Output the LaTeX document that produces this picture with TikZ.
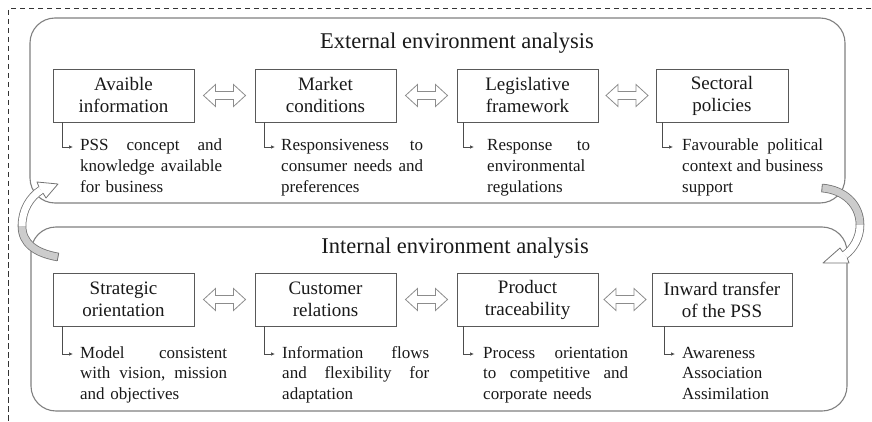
\documentclass[tikz,border=0pt]{standalone}
\usepackage{fontspec}
\setmainfont{Liberation Serif}
\usetikzlibrary{arrows.meta,calc}
\newcommand\jl[2]{\leavevmode\hbox to #1{#2}}
\begin{document}
\begin{tikzpicture}[x=1pt,y=-1pt,
  frame/.style={draw=black!80, line width=1pt, dash pattern=on 5.5pt off 3.5pt},
  container/.style={draw=black!50, line width=1.1pt, rounded corners=25pt},
  title/.style={font=\fontsize{22.5}{27}\selectfont, text=black!90, inner sep=0pt},
  factor/.style={draw=black!65, line width=0.8pt, fill=white, minimum height=53pt,
    inner sep=0pt, align=center, font=\fontsize{19}{22}\selectfont, text=black!90},
  desc/.style={anchor=base west, inner sep=0pt, align=left,
    font=\fontsize{17}{20.8}\selectfont, text=black!90},
  elbow/.style={draw=black!70, line width=0.7pt, -{Latex[length=4pt,width=3.5pt]}},
  dblline/.style={draw=black!45, line width=0.8pt, fill=white},
  ribbon/.style={draw=black!55, line width=0.8pt, double distance=7pt},
  headline/.style={draw=black!55, line width=0.8pt},
  dbl/.pic={\draw[dblline] (-21,0) -- (-9,-11) -- (-9,-4) -- (9,-4) -- (9,-11) -- (21,0)
      -- (9,11) -- (9,4) -- (-9,4) -- (-9,11) -- cycle;}
]
\useasboundingbox (0,0) rectangle (872,422);

% dashed frame
\draw[frame] (880,9) -- (8,9) -- (8,430);

% containers
\draw[container] (30,18) rectangle (845,203);
\draw[container] (31,227) rectangle (847,411);

% titles
\node[title] (t1) at (457,43) {External environment analysis};
\node[title] (t2) at (455,248) {Internal environment analysis};

% upper factors
\node[factor, minimum width=141pt] (a1) at (123.5,95.5) {Avaible\\information};
\node[factor, minimum width=141pt] (a2) at (325.5,95.5) {Market\\conditions};
\node[factor, minimum width=141pt] (a3) at (527.5,95.5) {Legislative\\framework};
\node[factor, minimum width=132pt] (a4) at (722,95.5) {Sectoral\\policies};

% lower factors
\node[factor, minimum width=141pt] (b1) at (123.5,299.5) {Strategic\\orientation};
\node[factor, minimum width=141pt] (b2) at (325.5,299.5) {Customer\\relations};
\node[factor, minimum width=141pt] (b3) at (527.5,299.5) {Product\\traceability};
\node[factor, minimum width=140pt] (b4) at (722,299.5) {Inward transfer\\of the PSS};

% descriptions upper
\node[desc, text width=142pt] (d1) at (80,151) {\jl{142pt}{PSS\hfill concept\hfill and}\\\jl{142pt}{knowledge\hfill available}\\for business};
\node[desc, text width=142pt] (d2) at (281,151) {\jl{142pt}{Responsiveness\hfill to}\\\jl{142pt}{consumer\hfill needs\hfill and}\\preferences};
\node[desc, text width=103pt] (d3) at (487,151) {\jl{103pt}{Response\hfill to}\\environmental\\regulations};
\node[desc, text width=141pt] (d4) at (682,151) {\jl{141pt}{Favourable\hfill political}\\\jl{141pt}{context\hfill and\hfill business}\\support};

% descriptions lower
\node[desc, text width=147pt] (e1) at (80,358) {\jl{147pt}{Model\hfill consistent}\\\jl{147pt}{with\hfill vision,\hfill mission}\\and objectives};
\node[desc, text width=147pt] (e2) at (282,358) {\jl{147pt}{Information\hfill flows}\\\jl{147pt}{and\hfill flexibility\hfill for}\\adaptation};
\node[desc, text width=145pt] (e3) at (483,358) {\jl{145pt}{Process\hfill orientation}\\\jl{145pt}{to\hfill competitive\hfill and}\\corporate needs};
\node[desc, text width=141pt] (e4) at (682,358) {Awareness\\Association\\Assimilation};

% elbow connectors
\draw[elbow] ([xshift=10pt]a1.south west) |- ([xshift=-7pt,yshift=4pt]d1.base west);
\draw[elbow] ([xshift=10pt]a2.south west) |- ([xshift=-6pt,yshift=4pt]d2.base west);
\draw[elbow] ([xshift=7pt]a3.south west) |- ([xshift=-13pt,yshift=4pt]d3.base west);
\draw[elbow] ([xshift=7pt]a4.south west) |- ([xshift=-9pt,yshift=4pt]d4.base west);
\draw[elbow] ([xshift=10pt]b1.south west) |- ([xshift=-7pt,yshift=4pt]e1.base west);
\draw[elbow] ([xshift=10pt]b2.south west) |- ([xshift=-7pt,yshift=4pt]e2.base west);
\draw[elbow] ([xshift=7pt]b3.south west) |- ([xshift=-9pt,yshift=4pt]e3.base west);
\draw[elbow] ([xshift=13pt]b4.south west) |- ([xshift=-7pt,yshift=4pt]e4.base west);

% double arrows
\path ($(a1.east)!0.5!(a2.west)$) pic {dbl};
\path ($(a2.east)!0.5!(a3.west)$) pic {dbl};
\path ($(a3.east)!0.5!(a4.west)$) pic {dbl};
\path ($(b1.east)!0.5!(b2.west)$) pic {dbl};
\path ($(b2.east)!0.5!(b3.west)$) pic {dbl};
\path ($(b3.east)!0.5!(b4.west)$) pic {dbl};

% left curved arrow (internal -> external)
\draw[ribbon, double=black!20] (58,257) .. controls (35,253) and (22,243) .. (22,226);
\draw[ribbon, double=white] (22,226) .. controls (22,210) and (30,197) .. (41,190);
\draw[headline] (58.7,253.2) -- (57.3,260.8);
\fill[white] (38.9,186.7) -- (37,182) -- (58,184) -- (46,198) -- (43.1,193.3) -- cycle;
\draw[headline, line join=round] (38.9,186.7) -- (37,182) -- (58,184) -- (46,198) -- (43.1,193.3);

% right curved arrow (external -> internal)
\draw[ribbon, double=black!20] (822,188) .. controls (845,190) and (860,205) .. (860,225);
\draw[ribbon, double=white] (860,225) .. controls (860,238) and (853,249) .. (845,255);
\draw[headline] (821.7,191.9) -- (822.3,184.1);
\fill[white] (842.7,251.9) -- (840,248) -- (823,263) -- (849,263) -- (847.3,258.1) -- cycle;
\draw[headline, line join=round] (842.7,251.9) -- (840,248) -- (823,263) -- (849,263) -- (847.3,258.1);
\end{tikzpicture}
\end{document}
